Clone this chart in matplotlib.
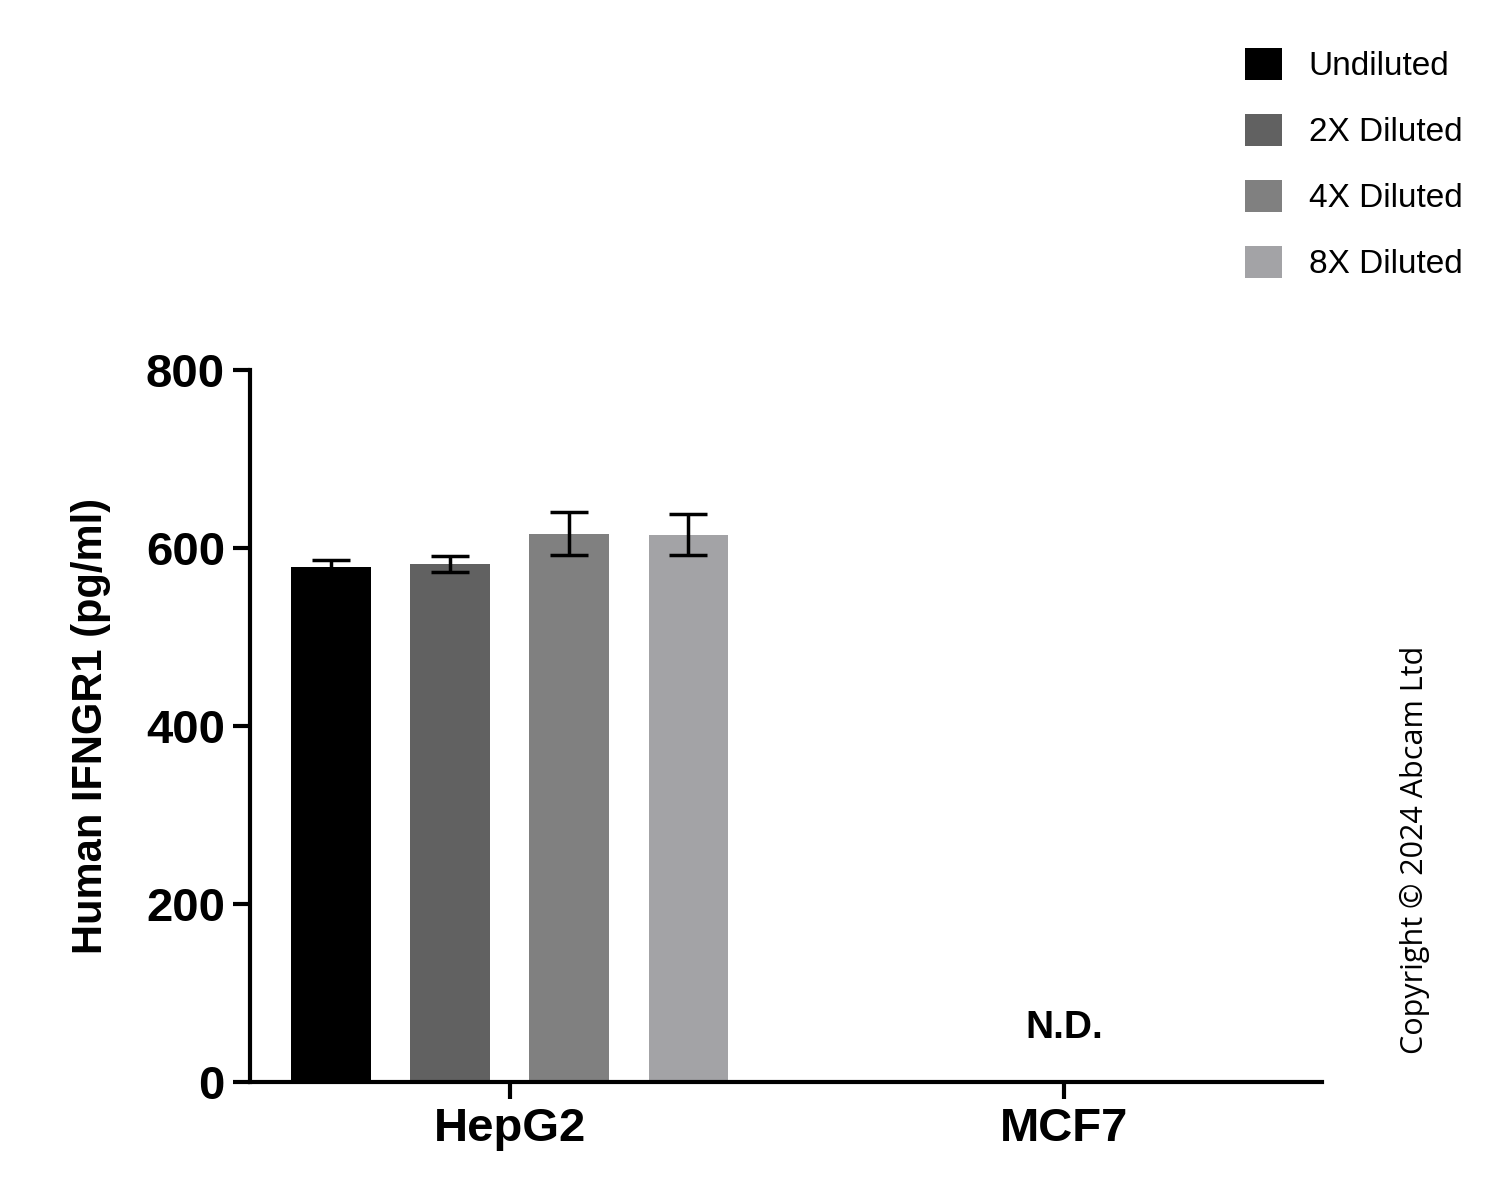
import numpy as np
import matplotlib.pyplot as plt

groups = ["HepG2", "MCF7"]
series = ["Undiluted", "2X Diluted", "4X Diluted", "8X Diluted"]
hepg2_vals = [579, 582, 616, 615]
hepg2_err = [8, 9, 24, 23]
colors = ["#000000", "#616161", "#808080", "#a3a3a6"]

fig = plt.figure(figsize=(15, 11.88), dpi=100)
ax = fig.add_axes([250/1500, 1 - 1082/1188, 1072/1500, 712/1188])

offsets = np.array([-1.5, -0.5, 0.5, 1.5]) * 0.215
for i, name in enumerate(series):
    ax.bar(0 + offsets[i], hepg2_vals[i], width=0.144, color=colors[i], label=name,
           yerr=hepg2_err[i], capsize=14, error_kw=dict(elinewidth=2.5, capthick=2.5))

ax.text(1, 40, "N.D.", ha="center", va="bottom", fontsize=28, fontweight="bold",
        family="Liberation Sans")

ax.set_xlim(-0.469, 1.466)
ax.set_ylim(0, 800)
ax.set_yticks([0, 200, 400, 600, 800])
ax.set_xticks([0, 1])
ax.set_xticklabels(groups)
for s in ["top", "right"]:
    ax.spines[s].set_visible(False)
for s in ["left", "bottom"]:
    ax.spines[s].set_linewidth(3)
ax.tick_params(width=3, length=12, labelsize=34, pad=6)
for lab in ax.get_xticklabels() + ax.get_yticklabels():
    lab.set_fontweight("bold")
    lab.set_family("Liberation Sans")
ax.set_ylabel("Human IFNGR1 (pg/ml)", fontsize=30, fontweight="bold",
              family="Liberation Sans", labelpad=25)

fig.legend(loc="upper right", bbox_to_anchor=(0.995, 0.985), frameon=False,
           prop=dict(family="Liberation Sans", size=24), handlelength=1.1,
           handleheight=1.1, labelspacing=0.95, handletextpad=0.8)

fig.text(1415/1500, 1 - 850/1188, "Copyright © 2024 Abcam Ltd", rotation=90,
         ha="center", va="center", fontsize=22, family="Open Sans")

plt.savefig("out.png")
